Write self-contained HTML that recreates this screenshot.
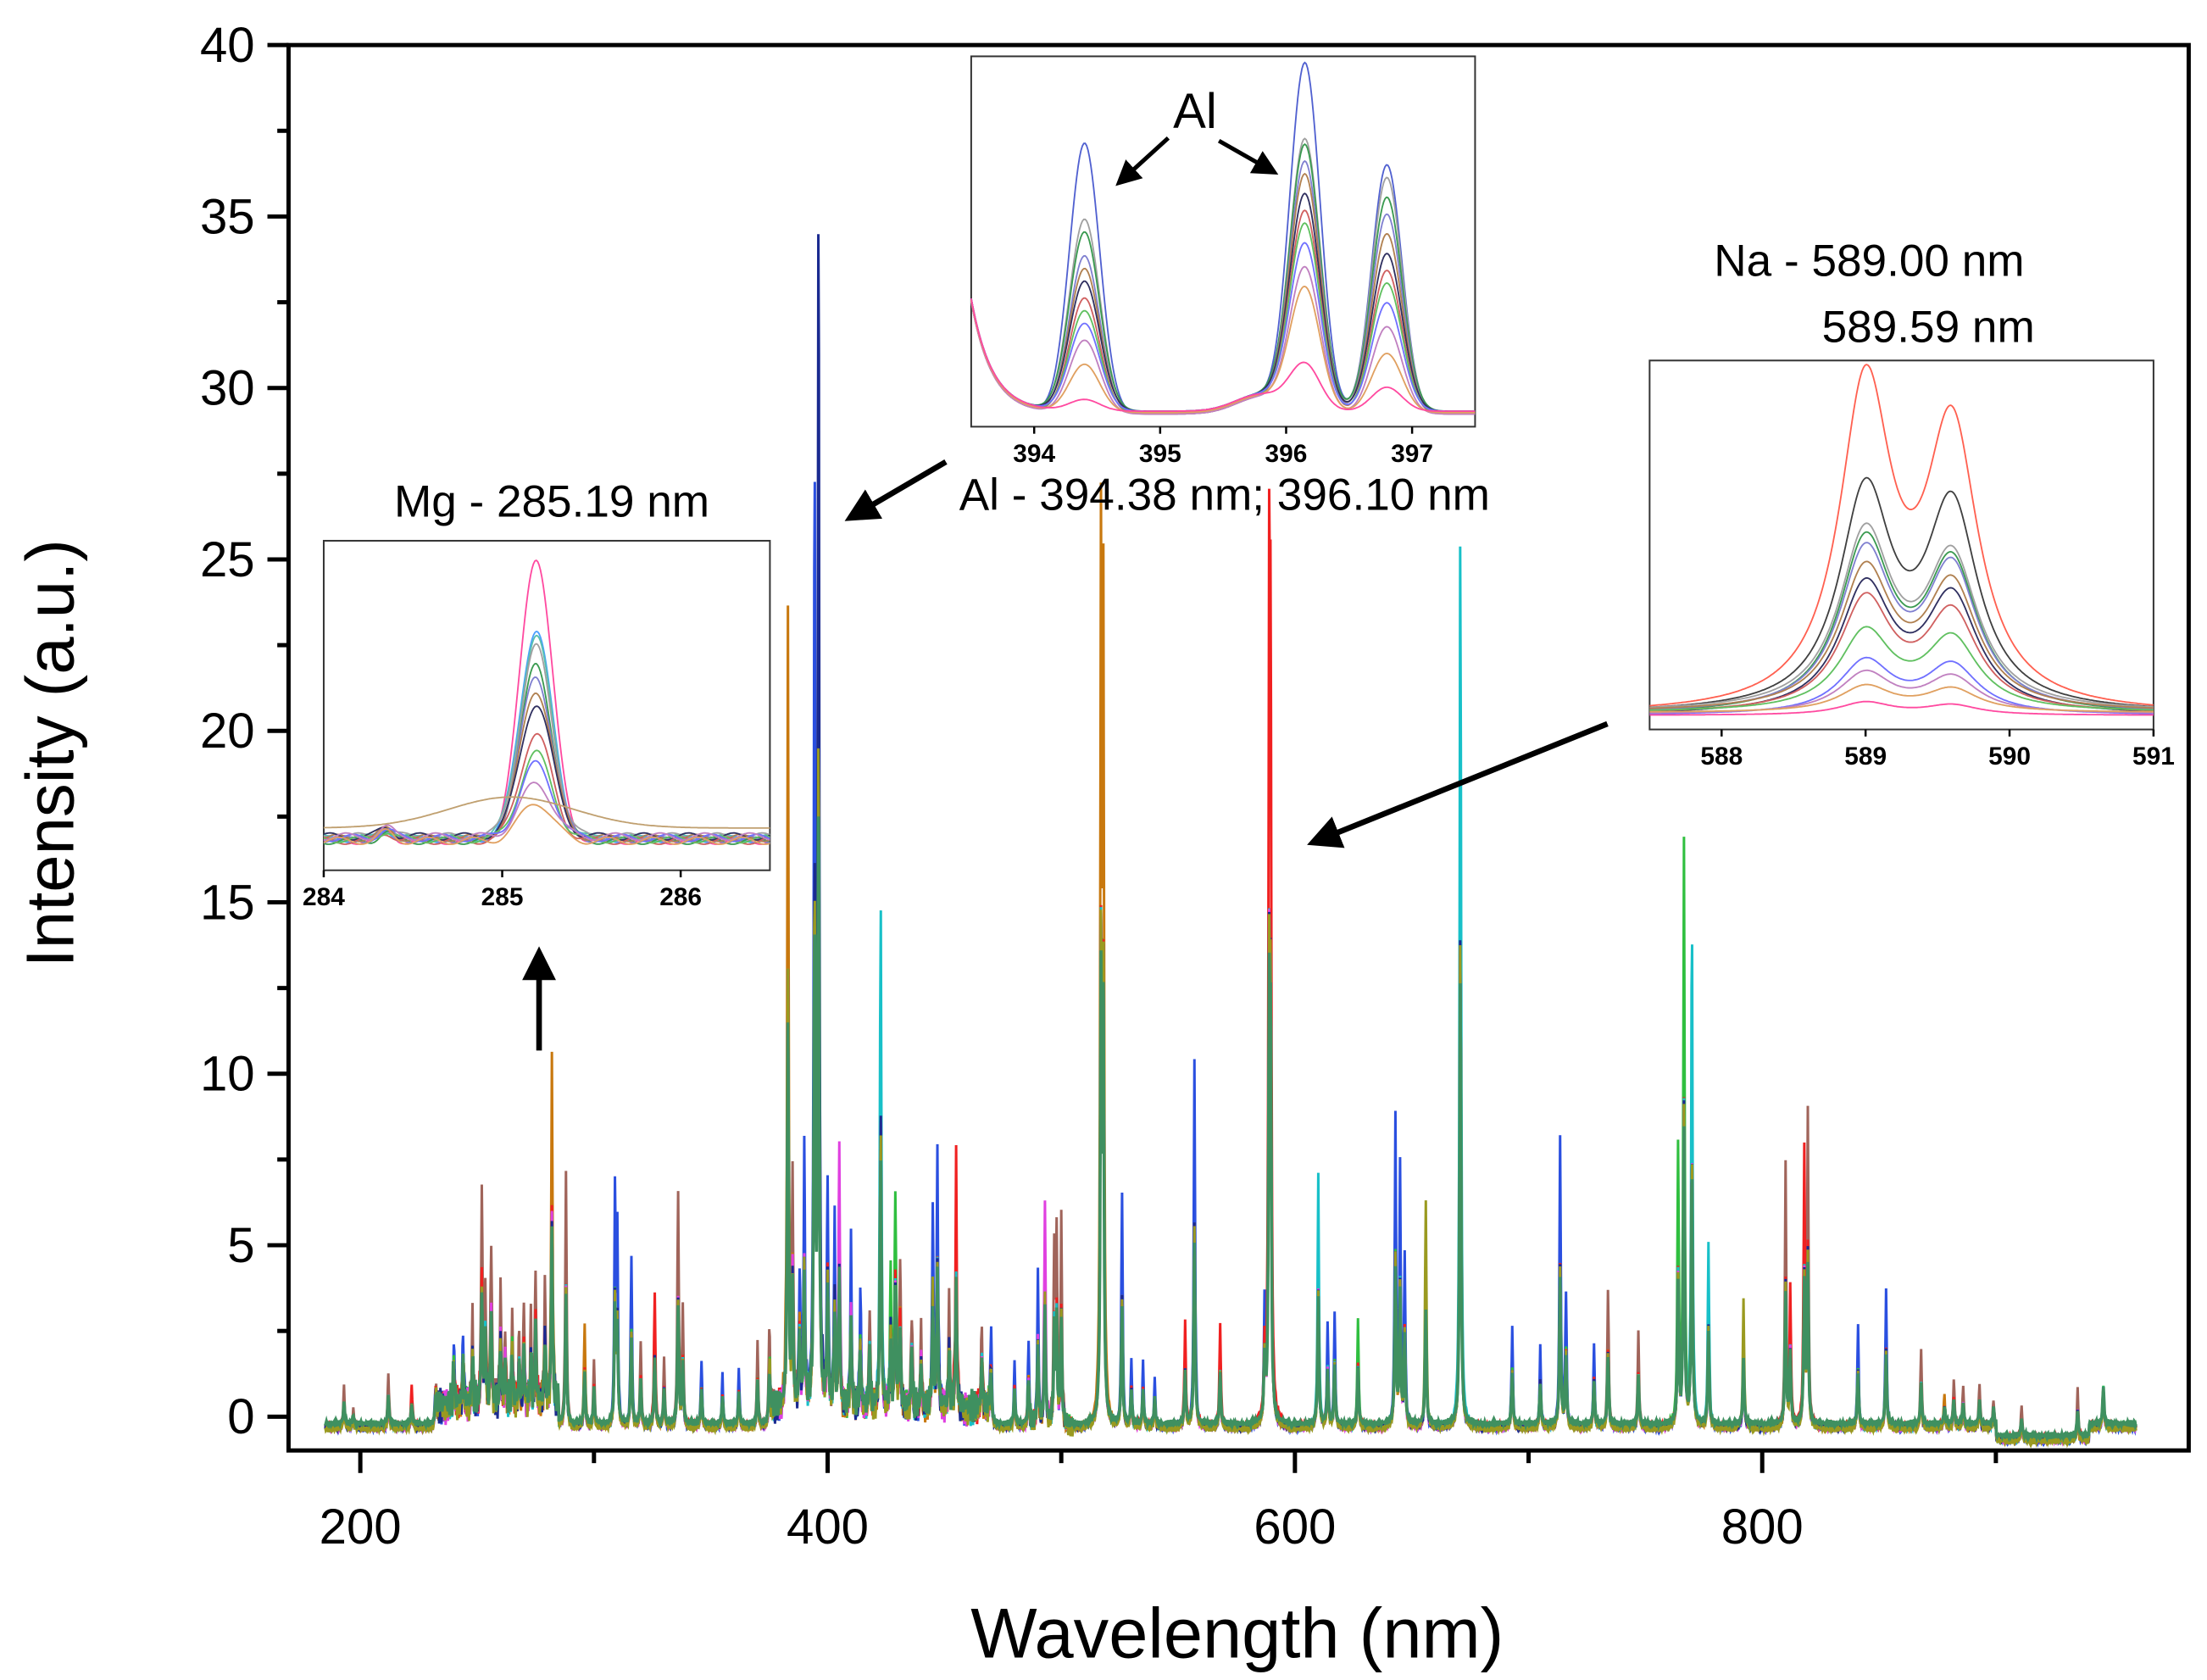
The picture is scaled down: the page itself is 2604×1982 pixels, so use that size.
<!DOCTYPE html>
<html><head><meta charset="utf-8"><style>
html,body{margin:0;padding:0;background:#fff;}
svg{display:block;font-family:"Liberation Sans",Arial,sans-serif;}
</style></head><body>
<svg id="chart" width="2604" height="1982" viewBox="0 0 1568 1193" preserveAspectRatio="none" xmlns="http://www.w3.org/2000/svg">
<rect x="0" y="0" width="1568" height="1193" fill="#fff"/>
<g id="mainSeries"></g>
<g id="axes"></g>
<g id="insets"></g>
<text transform="translate(52,535) rotate(-90)" text-anchor="middle" font-size="48">Intensity (a.u.)</text>
<text x="879" y="1177" text-anchor="middle" font-size="50">Wavelength (nm)</text>
<text x="392" y="367" text-anchor="middle" font-size="32">Mg - 285.19 nm</text>
<text x="870" y="362" text-anchor="middle" font-size="32">Al - 394.38 nm; 396.10 nm</text>
<text x="849" y="91" text-anchor="middle" font-size="35">Al</text>
<text x="1328" y="196" text-anchor="middle" font-size="32">Na - 589.00 nm</text>
<text x="1370" y="243" text-anchor="middle" font-size="32">589.59 nm</text>
<defs><marker id="ah" markerWidth="6" markerHeight="6" refX="4" refY="3" orient="auto" markerUnits="strokeWidth"><path d="M0,0 L6,3 L0,6 Z" fill="#000"/></marker></defs>
<line x1="672" y1="328" x2="607" y2="366" stroke="#000" stroke-width="4" marker-end="url(#ah)"/>
<line x1="1142" y1="514" x2="936" y2="597" stroke="#000" stroke-width="4" marker-end="url(#ah)"/>
<line x1="383" y1="746" x2="383" y2="680" stroke="#000" stroke-width="4" marker-end="url(#ah)"/>
<line x1="830" y1="98" x2="797" y2="128" stroke="#000" stroke-width="3" marker-end="url(#ah)"/>
<line x1="866" y1="100" x2="903" y2="121" stroke="#000" stroke-width="3" marker-end="url(#ah)"/>
</svg>
<script>
// ---------- main spectrum data ----------
const peakWl = [193,197,212,222,232,240,244,248,252,253.5,256,260,262,265,268,270,273,275,279,282,288,296,300,309,310,316,320,326,330,336,338,346,355,362,370,375,383,385,388,390,394.4,396.1,400,403,405,410,414,418,422.7,427,429,431,436,440,445,447,452,455,466,470,480,486,490,493,497,498,500,517,518,526,530,535,540,553,557,568,587,589,589.6,610,614,617,627,643,645,647,656,670.8,693,705,713.5,716,728,734,747,764,766.5,769.9,777,792,810,812,818,819.5,841,853,868,878,882,886,893,899,911,935,946];
const peakH  = [1.2,0.5,1.6,1.2,1.0,2.0,2.2,2.5,6.3,3.5,4.8,3.5,2.2,2.7,2.0,3.0,2.5,4.0,3.5,10.1,7.5,3.0,2.0,6.7,5.5,5.0,2.5,3.8,2.0,6.8,3.5,2.0,1.6,1.8,2.5,2.8,23.0,7.0,4.0,7.5,28.0,35.9,6.8,5.5,7.8,5.0,3.5,3.0,15.0,4.0,6.5,4.5,3.0,2.5,6.0,7.6,3.2,7.2,2.5,3.0,2.0,2.5,4.5,6.8,5.0,5.5,6.0,25.0,23.0,6.8,2.0,2.0,1.5,3.0,10.7,3.0,3.5,22.2,20.0,7.4,3.0,3.4,3.2,9.0,7.5,5.0,6.7,26.2,3.0,2.4,8.5,3.9,2.5,4.0,2.8,8.0,17.0,15.0,5.4,3.8,7.7,4.0,8.0,9.1,3.0,4.1,2.3,1.0,1.4,1.2,1.3,0.8,1.0,1.5,2.1];
const peakColorIdx = [1,1,1,4,0,0,0,1,1,1,1,1,1,1,1,1,1,1,1,3,1,3,1,0,0,0,1,4,1,1,1,0,0,0,1,1,3,1,0,0,0,7,0,0,6,0,0,1,5,2,2,1,1,1,0,0,1,4,1,0,0,0,0,6,1,1,1,3,3,0,0,0,0,4,0,4,0,4,4,5,0,0,2,0,0,0,8,5,0,0,0,0,0,1,1,2,2,5,5,8,1,4,4,1,0,0,1,3,1,1,1,1,1,1];
const seriesColors = ['#2a4fe0','#a0645a','#2fbf3f','#c8780e','#f02020','#18c0c8','#e040e0','#1a2a90','#9a9a20'];
const baselineVal = [-0.35,-0.3,-0.28,-0.32,-0.25,-0.3,-0.33,-0.31,-0.36];
const xTicks = [200,400,600,800];
const yTicks = [0,5,10,15,20,25,30,35,40];

const NS = 'http://www.w3.org/2000/svg';
function X(w){return 256+(w-200)*1.66;}
function Y(v){return 1006-v*24.35;}
function el(tag,parent){const e=document.createElementNS(NS,tag);parent.appendChild(e);return e;}
function jit(w,s){return 0.12*Math.sin(w*7.3+s)+0.08*Math.sin(w*19.1+2*s)+0.06*Math.sin(w*43.7+s);}
function clusterAmp(w){return (w>232&&w<285)?2.2:((w>375&&w<470)?2.0:((w>485&&w<505)?1.2:0.4));}

const mainG=document.getElementById('mainSeries');
function spectrum(si,base,scaleOther,own){
  let d='';
  for(let w=185;w<=960;w+=0.25){
    let v=base;
    if(w>232&&w<285) v+=0.6;
    if(w>375&&w<470) v+=0.5;
    if(w>900&&w<940) v-=0.35;
    v+=jit(w,si)*clusterAmp(w);
    for(let k=0;k<peakWl.length;k++){
      const g=0.35;const dx=w-peakWl[k];
      if(Math.abs(dx)>8) continue;
      const h=(own&&peakColorIdx[k]===si)?peakH[k]:peakH[k]*scaleOther;
      v+=h*g*g/(dx*dx+g*g);
    }
    d+=(d?'L':'M')+X(w).toFixed(1)+','+Y(v).toFixed(1);
  }
  return d;
}
for(let si=0;si<seriesColors.length;si++){
  const p=el('path',mainG);
  
  
  p.setAttribute('d',spectrum(si,baselineVal[si],0.55,true));
  p.setAttribute('fill','none');
  p.setAttribute('stroke',seriesColors[si]);
  p.setAttribute('stroke-width','1.8');
}
{
  const p=el('path',mainG);
  
  
  p.setAttribute('d',spectrum(11,-0.2,0.5,false));
  p.setAttribute('fill','none');
  p.setAttribute('stroke','#3f9060');
  p.setAttribute('stroke-width','2.2');
}

// ---------- axes ----------
const ax=document.getElementById('axes');
{
  const r=el('rect',ax);
  
  
  r.setAttribute('x','205');r.setAttribute('y','32');r.setAttribute('width','1350');r.setAttribute('height','998');
  r.setAttribute('fill','none');r.setAttribute('stroke','#000');r.setAttribute('stroke-width','3');
}
yTicks.forEach(v=>{
  const t=el('line',ax);
  
  
  t.setAttribute('x1',190);t.setAttribute('x2',205);t.setAttribute('y1',Y(v));t.setAttribute('y2',Y(v));
  t.setAttribute('stroke','#000');t.setAttribute('stroke-width','3');
  if(v<40){
    const m=el('line',ax);
    
    
    m.setAttribute('x1',197);m.setAttribute('x2',205);m.setAttribute('y1',Y(v+2.5));m.setAttribute('y2',Y(v+2.5));
    m.setAttribute('stroke','#000');m.setAttribute('stroke-width','3');
  }
  const l=el('text',ax);
  
  
  l.setAttribute('x',181);l.setAttribute('y',Y(v)+12);l.setAttribute('text-anchor','end');l.setAttribute('font-size','35');
  l.textContent=v;
});
xTicks.forEach(v=>{
  const t=el('line',ax);
  
  
  t.setAttribute('x1',X(v));t.setAttribute('x2',X(v));t.setAttribute('y1',1030);t.setAttribute('y2',1046);
  t.setAttribute('stroke','#000');t.setAttribute('stroke-width','3');
  const m=el('line',ax);
  
  
  m.setAttribute('x1',X(v+100));m.setAttribute('x2',X(v+100));m.setAttribute('y1',1030);m.setAttribute('y2',1039);
  m.setAttribute('stroke','#000');m.setAttribute('stroke-width','3');
  const l=el('text',ax);
  
  
  l.setAttribute('x',X(v));l.setAttribute('y',1096);l.setAttribute('text-anchor','middle');l.setAttribute('font-size','35');
  l.textContent=v;
});

// ---------- insets ----------
const insetColors=['#ff4aa0','#4aa0ff','#58c0b0','#a0a0a0','#3a9a50','#8080d0','#b08050','#303060','#d06060','#60c060','#7070ff','#c080c0','#e0a060'];
// Mg
const mgCenter=[285.19];
const mgHeights=[96,71,68,64,59,55,50,45,36,29,25,18,13];
const mgTicks=[284,285,286];
// Al
const alCenters=[394.4,396.15,396.8];
const alH1=[192,137,127,112,102,92,82,72,62,52,34,8];
const alH2=[247,192,187,177,167,152,142,132,117,102,87,32];
const alH3=[177,167,152,142,127,112,102,92,77,62,42,17];
const alTicks=[394,395,396,397];
// Na
const naCenters=[589.0,589.6];
const naH1=[226,151,122,118,110,97,88,78,55,37,28,18,9];
const naH2=[193,140,104,102,98,86,80,68,50,34,25,16,7];
const naTicks=[588,589,590,591];

const ig=document.getElementById('insets');
function inset(name,bx,by,bw,bh,xmin,xmax,ticks,curves){
  const g=el('g',ig);
  
  
  const r=el('rect',g);
  
  
  r.setAttribute('x',bx);r.setAttribute('y',by);r.setAttribute('width',bw);r.setAttribute('height',bh);
  r.setAttribute('fill','#fff');r.setAttribute('stroke','#333');r.setAttribute('stroke-width','1.2');
  const sx=w=>bx+(w-xmin)/(xmax-xmin)*bw;
  curves.forEach((c,i)=>{
    let d='';
    for(let px=0;px<=bw;px+=1){
      const w=xmin+px/bw*(xmax-xmin);
      const yv=c.fn(w);
      d+=(d?'L':'M')+(bx+px)+','+Math.max(by,c.base-yv).toFixed(1);
    }
    const p=el('path',g);
    
    
    p.setAttribute('d',d);p.setAttribute('fill','none');p.setAttribute('stroke',c.color);p.setAttribute('stroke-width','1.1');
  });
  ticks.forEach(t=>{
    const tl=el('line',g);
    
    
    tl.setAttribute('x1',sx(t));tl.setAttribute('x2',sx(t));tl.setAttribute('y1',by+bh);tl.setAttribute('y2',by+bh+5);
    tl.setAttribute('stroke','#000');tl.setAttribute('stroke-width','1.5');
    const lb=el('text',g);
    
    
    lb.setAttribute('x',sx(t));lb.setAttribute('y',by+bh+25);lb.setAttribute('text-anchor','middle');
    lb.setAttribute('font-size','18');lb.setAttribute('font-weight','bold');
    lb.textContent=t;
  });
}
const mgCurves=mgHeights.map((h,i)=>({color:insetColors[i%insetColors.length],base:597-(i%4),fn:w=>{const dx=w-mgCenter[0];return h*2.1*Math.exp(-dx*dx/(2*0.09*0.09))+6*Math.exp(-Math.pow(w-284.35,2)/0.003)+2.5*Math.sin(w*25+i);}}));
mgCurves.push({color:'#c0a070',base:588,fn:w=>{const dx=w-285.05;return 22*Math.exp(-dx*dx/(2*0.35*0.35));}});
inset('mg-inset',230,384,317,234,284,286.5,mgTicks,mgCurves);

const alCurves=alH1.map((h,i)=>({color:i===0?'#5060d0':insetColors[(i+2)%insetColors.length],base:294-(i%3),fn:w=>{
  const s=0.12;let v=0;
  v+=h*Math.exp(-Math.pow(w-alCenters[0],2)/(2*s*s));
  v+=alH2[i]*Math.exp(-Math.pow(w-alCenters[1],2)/(2*s*s));
  v+=alH3[i]*Math.exp(-Math.pow(w-alCenters[2],2)/(2*s*s));
  v+=80*Math.exp(-(w-393.5)*6);
  v+=12*Math.exp(-Math.pow(w-395.8,2)/0.08);
  return v;}}));
inset('al-inset',690,40,358,263,393.5,397.5,alTicks,alCurves);

const naCurves=naH1.map((h,i)=>({color:i===0?'#ff6050':(i===1?'#404040':insetColors[(i+1)%insetColors.length]),base:508-(i%3),fn:w=>{
  const g=0.22;
  return h*g*g/((w-naCenters[0])**2+g*g)+naH2[i]*g*g/((w-naCenters[1])**2+g*g);}}));
inset('na-inset',1172,256,358,262,587.5,591,naTicks,naCurves);
</script>
</body></html>
